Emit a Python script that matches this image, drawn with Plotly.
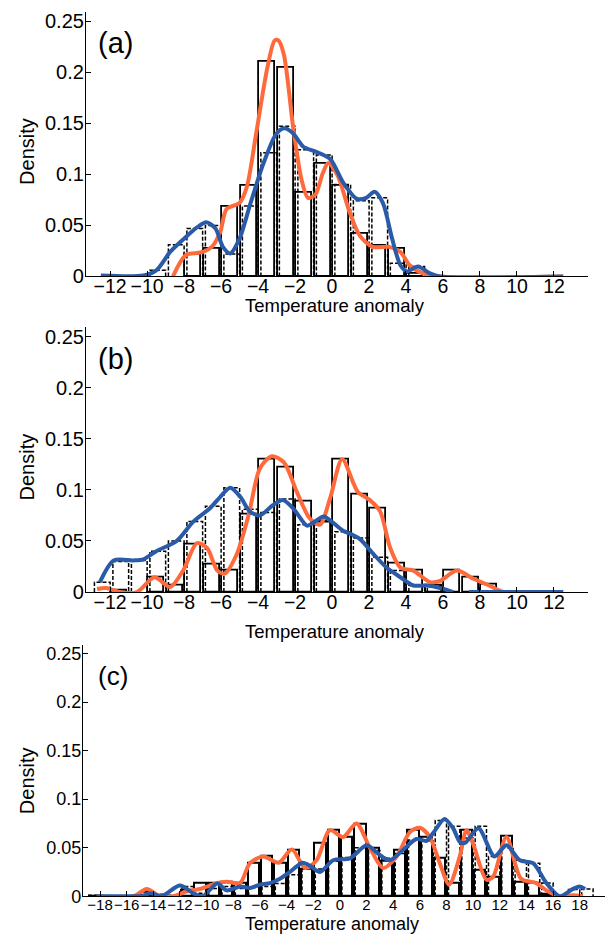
import plotly.graph_objects as go

# ---------------- data ----------------
# panel (a)
A_bins = [-10, -9, -8, -7, -6, -5, -4, -3, -2, -1, 0, 1, 2, 3, 4]
A_solid = [0.0, 0.0, 0.021, 0.027, 0.068, 0.089, 0.210, 0.204, 0.082, 0.110, 0.089, 0.042, 0.030, 0.027, 0.003]
A_dashed = [0.006, 0.031, 0.047, 0.050, 0.022, 0.069, 0.121, 0.147, 0.124, 0.119, 0.090, 0.074, 0.077, 0.013, 0.0097]
A_orange_x = [-8.6, -7.9, -7.1, -6.5, -6.05, -5.7, -5.0, -4.6, -4.1, -3.5, -3.1, -2.9, -2.6, -2.1, -1.65, -1.3, -0.9, -0.5, -0.2, 0.3, 0.95, 1.5, 2.2, 3.1, 3.7, 4.2, 4.9, 5.8, 12.5]
A_orange_y = [0, 0.021, 0.0235, 0.029, 0.043, 0.066, 0.072, 0.088, 0.14, 0.204, 0.231, 0.231, 0.217, 0.146, 0.095, 0.077, 0.080, 0.101, 0.111, 0.099, 0.063, 0.040, 0.029, 0.029, 0.024, 0.011, 0.003, 0, 0]
A_blue_x = [-12.5, -10.2, -9.5, -8.75, -8.0, -7.3, -6.8, -6.3, -5.9, -5.5, -5.0, -4.4, -3.7, -3.0, -2.55, -2.1, -1.55, -0.85, -0.1, 0.6, 1.35, 1.85, 2.3, 2.75, 3.25, 3.7, 4.05, 4.65, 5.3, 5.85, 12.5]
A_blue_y = [0.001, 0.001, 0.006, 0.024, 0.037, 0.048, 0.053, 0.047, 0.029, 0.0225, 0.037, 0.072, 0.111, 0.140, 0.145, 0.140, 0.127, 0.122, 0.115, 0.092, 0.076, 0.077, 0.083, 0.072, 0.037, 0.011, 0.005, 0.0097, 0.003, 0, 0]

# panel (b)
B_bins = [-13, -12, -11, -10, -9, -8, -7, -6, -5, -4, -3, -2, -1, 0, 1, 2, 3, 4, 5, 6, 7, 8]
B_solid = [0.0, 0.002, 0.0, 0.0145, 0.006, 0.047, 0.027, 0.021, 0.076, 0.130, 0.122, 0.089, 0.068, 0.130, 0.0956, 0.082, 0.028, 0.021, 0.0064, 0.021, 0.0145, 0.0074]
B_dashed = [0.0097, 0.030, 0.031, 0.040, 0.050, 0.069, 0.084, 0.102, 0.081, 0.078, 0.091, 0.066, 0.070, 0.059, 0.053, 0.034, 0.021, 0.0064, 0.007, 0.0, 0.0, 0.0]
B_orange_x = [-12.7, -12.2, -11.5, -10.55, -9.6, -8.75, -8.05, -7.3, -6.75, -6.2, -5.8, -5.15, -4.5, -3.9, -3.25, -2.6, -1.9, -1.2, -0.65, -0.1, 0.55, 1.4, 2.05, 2.6, 3.15, 3.7, 4.4, 5.3, 5.85, 6.75, 7.65, 8.55, 9.3, 12.5]
B_orange_y = [0.003, 0.004, 0, 0, 0.0145, 0.005, 0.021, 0.048, 0.043, 0.021, 0.018, 0.037, 0.076, 0.121, 0.133, 0.127, 0.098, 0.072, 0.066, 0.092, 0.130, 0.098, 0.090, 0.079, 0.043, 0.024, 0.021, 0.0097, 0.011, 0.021, 0.013, 0.006, 0, 0]
B_blue_x = [-12.55, -11.8, -10.75, -10.2, -9.5, -8.4, -7.5, -6.6, -6.05, -5.5, -4.95, -4.45, -3.9, -3.2, -2.65, -2.1, -1.35, -1.0, -0.45, 0.05, 0.6, 1.0, 1.5, 2.25, 2.95, 3.7, 4.4, 5.1, 5.85, 6.55, None, 7.4, 12.5]
B_blue_y = [0.0097, 0.031, 0.031, 0.032, 0.040, 0.050, 0.069, 0.082, 0.093, 0.102, 0.093, 0.079, 0.075, 0.085, 0.090, 0.082, 0.065, 0.068, 0.074, 0.068, 0.060, 0.057, 0.052, 0.037, 0.024, 0.0145, 0.0064, 0.0064, 0.004, 0, None, 0, 0]

# panel (c)
C_bins = list(range(-19, 19))
C_solid = [0.001, 0, 0, 0, 0.005, 0, 0, 0.007, 0.0135, 0.014, 0.015, 0.0135, 0.035, 0.042, 0.035, 0.048, 0.028, 0.055, 0.068,
           0.061, 0.075, 0.050, 0.037, 0.048, 0.068, 0.061, 0.040, 0.0135, 0.068, 0.027, 0.020, 0.062, 0.015, 0.0135, 0.003, 0, 0, 0]
C_dashed = [0.001, 0, 0, 0, 0, 0.002, 0.001, 0.010, 0.003, 0.008, 0.010, 0.008, 0.009, 0.010, 0.013, 0.022, 0.030, 0.028, 0.036,
            0.040, 0.050, 0.047, 0.039, 0.044, 0.058, 0.057, 0.078, 0.072, 0.060, 0.072, 0.041, 0.050, 0.037, 0.034, 0.0135, 0, 0.007, 0.0075]
C_orange_x = [-18.25, -15.5, -14.5, -13.5, -12.5, -11.5, -10.5, -9.25, -8.5, -7.5, -6.75, -5.75, -4.6, -3.6, -2.6, -1.75, -0.75, 0.25, 1.25, 2.25, 3.25, 4.25, 5.25, 6.0, 6.75, 7.5, 8.2, 9.0, 9.5, 10.0, 11.0, 11.5, 12.5, 13.6, 14.75, 15.5, 16.5, 17.5, 18.25]
C_orange_y = [0, 0, 0.0075, 0, 0.0, 0.005, 0.0075, 0.0135, 0.015, 0.0135, 0.034, 0.041, 0.0345, 0.048, 0.029, 0.037, 0.068, 0.061, 0.075, 0.050, 0.029, 0.0406, 0.066, 0.0705, 0.061, 0.034, 0.012, 0.041, 0.068, 0.054, 0.017, 0.020, 0.061, 0.018, 0.0135, 0.006, 0, 0.001, 0]
C_blue_x = [-18.25, -15.6, -14.9, -14.2, -13.4, -12.0, -11.0, -10.3, -9.2, -8.5, -7.5, -6.75, -6.0, -5.25, -4.5, -3.75, -2.8, -2.2, -1.5, -0.5, 0.75, 2.0, 2.6, 3.25, 3.75, 5.0, 5.75, 6.5, 7.0, 7.85, 8.5, 9.0, 9.4, 10.4, 11.6, 12.5, 13.5, 14.5, 15.5, 16.5, 17.5, 18.0, 18.4]
C_blue_y = [0, 0, 0, 0.003, 0, 0.011, 0.003, 0, 0.013, 0.006, 0.010, 0.0085, 0.012, 0.0135, 0.018, 0.025, 0.0345, 0.031, 0.025, 0.037, 0.039, 0.0525, 0.047, 0.040, 0.037, 0.051, 0.059, 0.057, 0.065, 0.0796, 0.070, 0.056, 0.055, 0.070, 0.041, 0.0525, 0.037, 0.034, 0.0135, 0, 0.0075, 0.010, 0.0075]

Y_TICKS = [0, 0.05, 0.1, 0.15, 0.2, 0.25]
Y_TICKTEXT = ["0", "0.05", "0.1", "0.15", "0.2", "0.25"]
AB_XTICKS = [-12, -10, -8, -6, -4, -2, 0, 2, 4, 6, 8, 10, 12]
C_XTICKS = list(range(-18, 20, 2))
PANEL_LABELS = ["(a)", "(b)", "(c)"]
XTITLE = "Temperature anomaly"
YTITLE = "Density"

ORANGE = "#FF6A3C"
BLUE = "#2A5BA8"
FONT = "Liberation Sans, Arial, Helvetica, sans-serif"

W, H = 609, 945
fig = go.Figure()


def dashed_path(bins, heights, width, offset):
    xs, ys = [], []
    for k, h in zip(bins, heights):
        if h <= 0:
            continue
        l = k + 0.5 + offset - width / 2
        r = l + width
        xs += [l, l, r, r, None]
        ys += [0, h, h, 0, None]
    return xs, ys


panels = [
    (A_bins, A_solid, A_dashed, A_orange_x, A_orange_y, A_blue_x, A_blue_y),
    (B_bins, B_solid, B_dashed, B_orange_x, B_orange_y, B_blue_x, B_blue_y),
    (C_bins, C_solid, C_dashed, C_orange_x, C_orange_y, C_blue_x, C_blue_y),
]

for i, (bins, solid, dashed, ox, oy, bx, by) in enumerate(panels):
    xa = "x" if i == 0 else f"x{i+1}"
    ya = "y" if i == 0 else f"y{i+1}"
    lw = 1.8 if i < 2 else 2.0
    fig.add_trace(go.Bar(
        x=[k + 0.5 for k, h in zip(bins, solid) if h > 0],
        y=[h for h in solid if h > 0],
        width=0.85, marker=dict(color="rgba(255,255,255,0)", line=dict(color="black", width=lw)),
        xaxis=xa, yaxis=ya, showlegend=False, hoverinfo="skip"))
    dx, dy = dashed_path(bins, dashed, 0.85, 0.08)
    fig.add_trace(go.Scatter(x=dx, y=dy, mode="lines", line=dict(color="black", width=1.5, dash="4px,2px"),
                             xaxis=xa, yaxis=ya, showlegend=False, hoverinfo="skip"))
    fig.add_trace(go.Scatter(x=ox, y=oy, mode="lines", line=dict(color=ORANGE, width=4, shape="spline", smoothing=0.8),
                             xaxis=xa, yaxis=ya, showlegend=False, connectgaps=False))
    fig.add_trace(go.Scatter(x=bx, y=by, mode="lines", line=dict(color=BLUE, width=4, shape="spline", smoothing=0.8),
                             xaxis=xa, yaxis=ya, showlegend=False, connectgaps=False))

# pixel geometry of the three plot areas: (left, right, top, bottom)
geo = [(86, 588, 10, 278.3), (86, 588, 330, 598.3), (83, 605, 651.7, 906.7)]
xr = [[-13.3, 13.84], [-13.3, 13.84], [-19.28, 19.9]]
yr = [[0, 0.259], [0, 0.259], [0, 0.259]]

layout = dict(width=W, height=H, margin=dict(l=0, r=0, t=0, b=0), plot_bgcolor="white", paper_bgcolor="white",
              font=dict(family=FONT, color="black"), bargap=0, barmode="overlay")
annotations = []
for i, (l, r, t, b) in enumerate(geo):
    sx = "" if i == 0 else str(i + 1)
    tfs = 19.5 if i < 2 else 15
    layout["xaxis" + sx] = dict(domain=[l / W, r / W], range=xr[i], anchor="y" + sx,
                                tickvals=AB_XTICKS if i < 2 else C_XTICKS, tickangle=0,
                                ticks="inside", ticklen=5, tickcolor="black", showline=True, linecolor="black",
                                linewidth=1.2, showgrid=False, zeroline=False, tickfont=dict(size=tfs),
                                ticklabelstandoff=-8 if i < 2 else -5)
    layout["yaxis" + sx] = dict(domain=[1 - b / H, 1 - t / H], range=yr[i], anchor="x" + sx,
                                tickvals=Y_TICKS, ticktext=Y_TICKTEXT,
                                ticks="inside", ticklen=5, tickcolor="black", showline=True, linecolor="black",
                                linewidth=1.2, showgrid=False, zeroline=False,
                                tickfont=dict(size=20 if i < 2 else 18), ticklabelstandoff=-3)
    annotations.append(dict(text=PANEL_LABELS[i], x=(115 if i < 2 else 113) / W, y=1 - ((42, 362, 683)[i]) / H,
                            xref="paper", yref="paper", showarrow=False, font=dict(size=29 if i < 2 else 26),
                            xanchor="center", yanchor="middle"))
    annotations.append(dict(text=YTITLE, x=27 / W, y=1 - ((152, 472, 790)[i]) / H, xref="paper", yref="paper",
                            showarrow=False, textangle=-90, font=dict(size=20), xanchor="center", yanchor="middle"))
    annotations.append(dict(text=XTITLE, x=(335 if i < 2 else 332) / W, y=1 - ((308, 638, 935)[i]) / H,
                            xref="paper", yref="paper", showarrow=False, font=dict(size=18.5 if i < 2 else 18),
                            xanchor="center", yanchor="middle"))
layout["annotations"] = annotations
fig.update_layout(**layout)
fig.write_html("out.html")
